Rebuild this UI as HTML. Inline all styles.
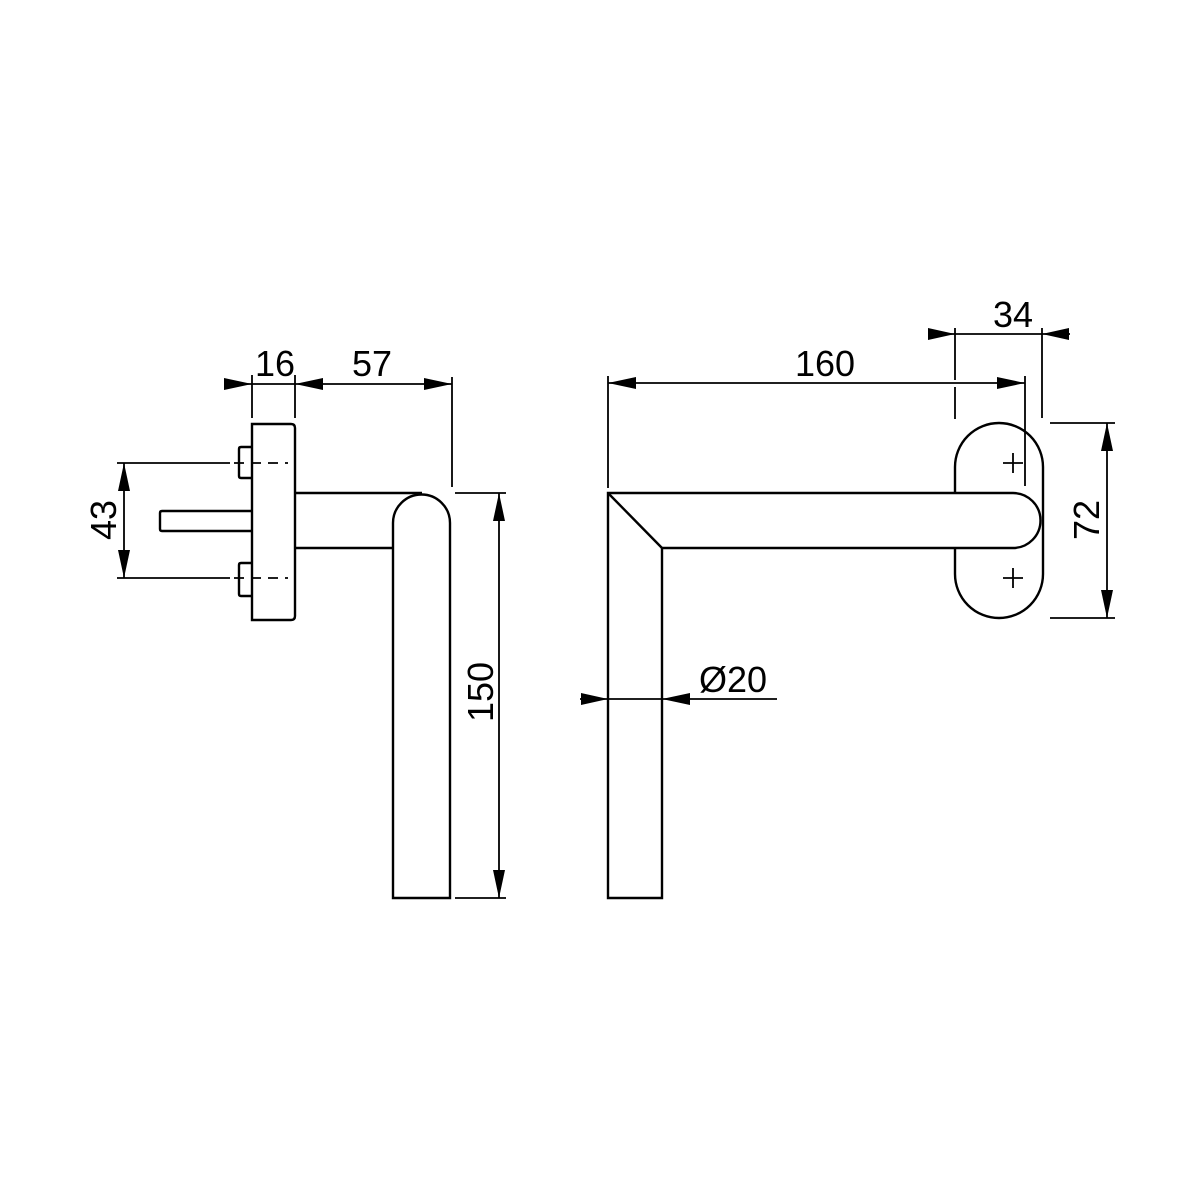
<!DOCTYPE html>
<html><head><meta charset="utf-8"><style>
html,body{margin:0;padding:0;background:#fff;}
svg{display:block;}
text{font-family:"Liberation Sans",sans-serif;font-size:36px;fill:#000;}
</style></head><body>
<svg width="1200" height="1200" viewBox="0 0 1200 1200" xmlns="http://www.w3.org/2000/svg">
<g fill="none" stroke="#000" stroke-width="2.4">
<!-- LEFT VIEW -->
<path d="M252,424 H291 Q295,424 295,428 V616 Q295,620 291,620 H252 Z"/>
<path d="M252,447 H241 Q239,447 239,449 V476 Q239,478 241,478 H252"/>
<path d="M252,563 H241 Q239,563 239,565 V594 Q239,596 241,596 H252"/>
<path d="M252,511 H162 Q160,511 160,513 V529 Q160,531 162,531 H252"/>
<path d="M295,493 H422 M295,548 H393"/>
<path d="M393,898 V523 A28.5,28.5 0 0 1 450,523 V898 Z"/>
<path d="M117,463 H230 M117,578 H230" stroke-width="1.8"/>
<path d="M234,463 H288 M234,578 H288" stroke-dasharray="10,7" stroke-width="1.8"/>
<path d="M124,463 V578" stroke-width="1.8"/>
<path d="M252,375 V418 M295,375 V418 M452,377 V487" stroke-width="1.8"/>
<path d="M224,384 H452" stroke-width="1.8"/>
<path d="M455,493 H506 M455,898 H506 M499,493 V898" stroke-width="1.8"/>
<!-- RIGHT VIEW -->
<path d="M999,423 A44,44 0 0 1 1043,467 V574 A44,44 0 0 1 955,574 V467 A44,44 0 0 1 999,423 Z" fill="#fff"/>
<path d="M608,898 V493 H1013 A27.5,27.5 0 0 1 1013,548 H662 V898 Z" fill="#fff"/>
<path d="M608,493 L662,548"/>
<path d="M1003,463 H1023 M1013,453 V473 M1003,578 H1023 M1013,568 V588" stroke-width="1.8"/>
<path d="M608,376 V488 M1025,376 V486 M608,383 H1025" stroke-width="1.8"/>
<path d="M955,328 V380 M955,387 V419 M1042,328 V418 M928,334 H1070" stroke-width="1.8"/>
<path d="M1050,423 H1115 M1050,618 H1115 M1107,423 V618" stroke-width="1.8"/>
<path d="M580,699 H777" stroke-width="1.8"/>
</g>
<g fill="#000">
<polygon points="252,384 224,378 224,390"/>
<polygon points="295,384 323,378 323,390"/>
<polygon points="452,384 424,378 424,390"/>
<polygon points="124,463 118,491 130,491"/>
<polygon points="124,578 118,550 130,550"/>
<polygon points="499,493 493,521 505,521"/>
<polygon points="499,898 493,870 505,870"/>
<polygon points="608,383 636,377 636,389"/>
<polygon points="1025,383 997,377 997,389"/>
<polygon points="955,334 928,328 928,340"/>
<polygon points="1042,334 1069,328 1069,340"/>
<polygon points="1107,423 1101,451 1113,451"/>
<polygon points="1107,618 1101,590 1113,590"/>
<polygon points="608,699 581,693 581,705"/>
<polygon points="662,699 690,693 690,705"/>
</g>
<text x="275" y="376" text-anchor="middle">16</text>
<text x="372" y="376" text-anchor="middle">57</text>
<text x="825" y="376" text-anchor="middle">160</text>
<text x="1013" y="327" text-anchor="middle">34</text>
<text x="733" y="692" text-anchor="middle">Ø20</text>
<text transform="translate(116,520) rotate(-90)" text-anchor="middle">43</text>
<text transform="translate(493,692) rotate(-90)" text-anchor="middle">150</text>
<text transform="translate(1099,520) rotate(-90)" text-anchor="middle">72</text>
</svg>
</body></html>
